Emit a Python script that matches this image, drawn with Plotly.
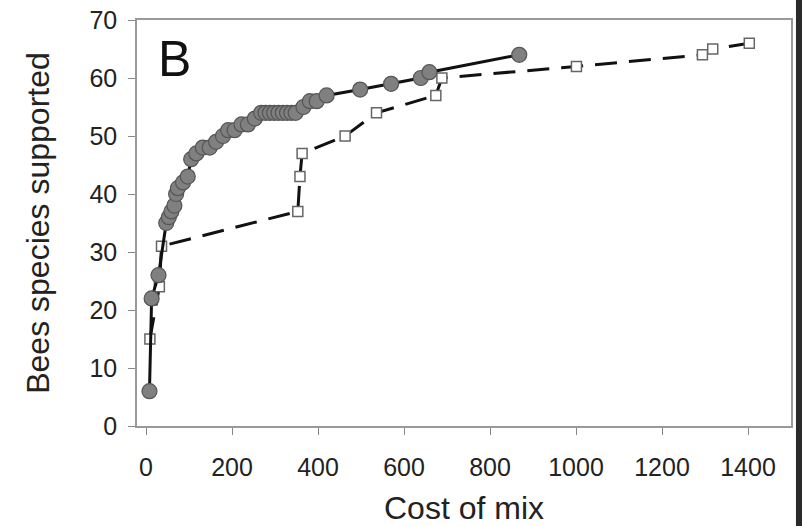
import plotly.graph_objects as go

# Circles (solid line)
circle_cost = [8, 13, 29, 47, 53, 59, 66, 70, 74, 86, 97, 105, 117, 132, 148, 163, 179, 191, 206, 222, 237, 253,
               268, 278, 288, 298, 308, 318, 328, 338, 348, 366, 381, 397, 420, 498, 570, 639, 659, 868]
circle_bees = [6, 22, 26, 35, 36, 37, 38, 40, 41, 42, 43, 46, 47, 48, 48, 49, 50, 51, 51, 52, 52, 53,
               54, 54, 54, 54, 54, 54, 54, 54, 54, 55, 56, 56, 57, 58, 59, 60, 61, 64]

# Squares (dashed line)
square_cost = [9, 31, 36, 353, 358, 363, 463, 536, 674, 688, 1001, 1294, 1318, 1403]
square_bees = [15, 24, 31, 37, 43, 47, 50, 54, 57, 60, 62, 64, 65, 66]

x_ticks = [0, 200, 400, 600, 800, 1000, 1200, 1400]
y_ticks = [0, 10, 20, 30, 40, 50, 60, 70]

FONT = "Liberation Sans, Arial, sans-serif"

fig = go.Figure()
fig.add_trace(go.Scatter(
    x=square_cost, y=square_bees, mode="lines+markers",
    line=dict(color="#111111", width=3, dash="22px,12px"),
    marker=dict(symbol="square", size=10, color="white", line=dict(color="#666666", width=1.5)),
    showlegend=False, hoverinfo="skip"))
fig.add_trace(go.Scatter(
    x=circle_cost, y=circle_bees, mode="lines+markers",
    line=dict(color="#111111", width=3),
    marker=dict(symbol="circle", size=15, color="#808080", line=dict(color="#555555", width=1.2)),
    showlegend=False, hoverinfo="skip"))

fig.update_layout(
    width=802, height=526,
    margin=dict(l=137, r=11, t=20, b=100, autoexpand=False),
    paper_bgcolor="white", plot_bgcolor="white",
    font=dict(family=FONT, color="#222222"),
    xaxis=dict(range=[-21, 1500], tickvals=x_ticks, ticks="outside", ticklen=7, tickcolor="#888888",
               showline=True, linecolor="#999999", linewidth=1.5, mirror=True, showgrid=False, zeroline=False,
               tickfont=dict(size=25, color="#222222"), ticklabelstandoff=11,
               title=dict(text="Cost of mix", font=dict(size=32, color="#222222"), standoff=17)),
    yaxis=dict(range=[0, 70], tickvals=y_ticks, ticks="outside", ticklen=7, tickcolor="#888888",
               showline=True, linecolor="#999999", linewidth=1.5, mirror=True, showgrid=False, zeroline=False,
               tickfont=dict(size=25, color="#222222"), ticklabelstandoff=6,
               title=dict(text="Bees species supported", font=dict(size=32, color="#222222"), standoff=30)),
    annotations=[dict(text="B", x=0.058, y=0.905, xref="paper", yref="paper", showarrow=False,
                      xanchor="center", yanchor="middle", font=dict(size=50, color="#111111", family=FONT))],
    shapes=[dict(type="rect", xref="paper", yref="paper", x0=1.0076, x1=1.03, y0=-0.3, y1=1.1,
                 fillcolor="#2a2a2a", line=dict(width=0), layer="above")],
)

# remove the default 8px page margin so the figure fills the window exactly
fig.write_html("out.html", config={"displayModeBar": False},
               post_script="document.body.style.margin='0px';")
